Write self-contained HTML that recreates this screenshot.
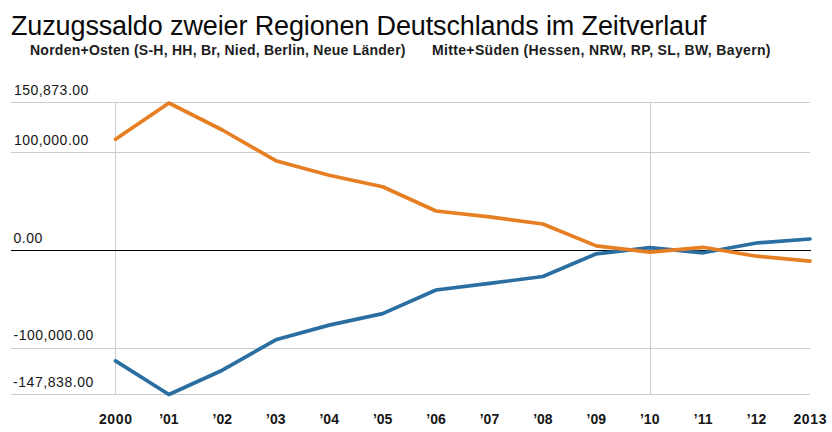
<!DOCTYPE html>
<html><head><meta charset="utf-8"><style>
html,body{margin:0;padding:0;background:#fff;overflow:hidden;}
svg{display:block;}
text{font-family:"Liberation Sans",sans-serif;}
.t{font-size:27px;fill:#0a0a0a;}
.s{font-size:14px;font-weight:bold;fill:#1c1c1c;}
.yl{font-size:14px;fill:#161616;}
.xl{font-size:14px;font-weight:bold;fill:#161616;}
</style></head><body>
<svg width="832" height="432" viewBox="0 0 832 432">
<rect width="832" height="432" fill="#fff"/>
<text x="11.00" y="35.00" class="t" textLength="695.34" lengthAdjust="spacing">Zuzugssaldo zweier Regionen Deutschlands im Zeitverlauf</text>
<text x="30.00" y="55.00" class="s" textLength="375.51" lengthAdjust="spacing">Norden+Osten (S-H, HH, Br, Nied, Berlin, Neue Länder)</text>
<text x="432.00" y="55.00" class="s" textLength="338.50" lengthAdjust="spacing">Mitte+Süden (Hessen, NRW, RP, SL, BW, Bayern)</text>
<text x="14.00" y="95.00" class="yl" textLength="74.28" lengthAdjust="spacing">150,873.00</text>
<text x="14.00" y="145.00" class="yl" textLength="74.28" lengthAdjust="spacing">100,000.00</text>
<text x="13.50" y="243.00" class="yl" textLength="28.85" lengthAdjust="spacing">0.00</text>
<text x="13.50" y="340.00" class="yl" textLength="79.73" lengthAdjust="spacing">-100,000.00</text>
<text x="13.00" y="387.00" class="yl" textLength="80.33" lengthAdjust="spacing">-147,838.00</text>
<g stroke="#cccccc" stroke-width="1" shape-rendering="crispEdges">
<line x1="11" y1="102.5" x2="810" y2="102.5"/>
<line x1="11" y1="152.5" x2="810" y2="152.5"/>
<line x1="11" y1="348.5" x2="810" y2="348.5"/>
<line x1="11" y1="394.5" x2="810" y2="394.5"/>
<line x1="115.5" y1="103" x2="115.5" y2="394"/>
<line x1="650.5" y1="103" x2="650.5" y2="394"/>
</g>
<line x1="11" y1="250.5" x2="811" y2="250.5" stroke="#000" stroke-width="1" shape-rendering="crispEdges"/>
<polyline points="115.50,360.90 168.92,394.50 222.35,370.20 275.77,339.80 329.19,325.10 382.62,313.60 436.04,290.00 489.46,283.40 542.88,276.50 596.31,253.80 649.73,247.60 703.15,252.80 756.58,243.00 810.00,239.00" fill="none" stroke="#2a6ea2" stroke-width="3.7" stroke-linejoin="round" stroke-linecap="round"/>
<polyline points="115.50,139.20 168.92,103.00 222.35,130.00 275.77,160.70 329.19,175.20 382.62,186.80 436.04,211.00 489.46,216.80 542.88,224.00 596.31,245.90 649.73,252.20 703.15,247.30 756.58,256.20 810.00,261.10" fill="none" stroke="#e67f24" stroke-width="3.7" stroke-linejoin="round" stroke-linecap="round"/>
<text x="115.50" y="424" text-anchor="middle" class="xl" textLength="33.2" lengthAdjust="spacing">2000</text>
<text x="168.92" y="424" text-anchor="middle" class="xl">’01</text>
<text x="222.35" y="424" text-anchor="middle" class="xl">’02</text>
<text x="275.77" y="424" text-anchor="middle" class="xl">’03</text>
<text x="329.19" y="424" text-anchor="middle" class="xl">’04</text>
<text x="382.62" y="424" text-anchor="middle" class="xl">’05</text>
<text x="436.04" y="424" text-anchor="middle" class="xl">’06</text>
<text x="489.46" y="424" text-anchor="middle" class="xl">’07</text>
<text x="542.88" y="424" text-anchor="middle" class="xl">’08</text>
<text x="596.31" y="424" text-anchor="middle" class="xl">’09</text>
<text x="649.73" y="424" text-anchor="middle" class="xl">’10</text>
<text x="703.15" y="424" text-anchor="middle" class="xl">’11</text>
<text x="756.58" y="424" text-anchor="middle" class="xl">’12</text>
<text x="810.00" y="424" text-anchor="middle" class="xl" textLength="33.2" lengthAdjust="spacing">2013</text>
</svg>
</body></html>
